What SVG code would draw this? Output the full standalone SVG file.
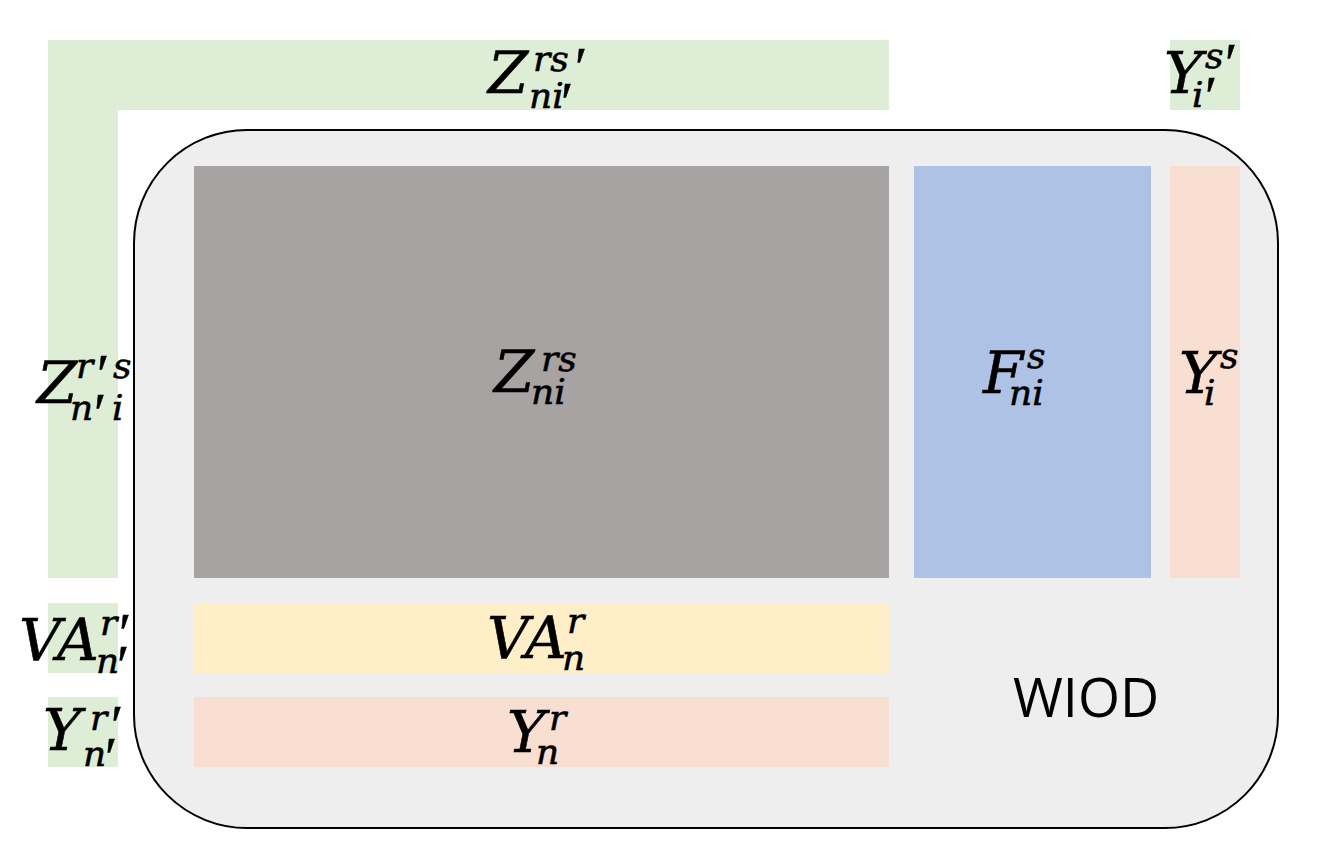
<svg xmlns="http://www.w3.org/2000/svg" width="1319" height="856" viewBox="0 0 1319 856">
<style>
.m{font-family:"DejaVu Serif","Liberation Serif",serif;font-style:italic;fill:#000;stroke:#000;stroke-width:0.6px}
.b{font-size:58px}
.s{font-size:36px}
.p{font-family:"Liberation Serif","Times New Roman",serif;font-size:56px;fill:#000;stroke:#000;stroke-width:0.5px}
.green{fill:#DEEDD6}
</style>
<rect width="1319" height="856" fill="#fff"/>
<g id="ext-top"><rect class="green" x="48" y="40" width="841" height="70"/></g>
<g id="ext-left"><rect class="green" x="48" y="110" width="70" height="468"/></g>
<g id="ext-va"><rect class="green" x="48" y="603" width="70" height="70"/></g>
<g id="ext-y"><rect class="green" x="48" y="697" width="70" height="70"/></g>
<g id="ext-ys"><rect class="green" x="1170" y="40" width="70" height="70"/></g>
<g id="wiod">
<rect x="134" y="130" width="1144" height="698" rx="113" ry="113" fill="#EEEEEE" stroke="#000" stroke-width="2"/>
<text x="1013" y="717" font-family="'Open Sans','Liberation Sans',sans-serif" font-size="54" fill="#000">WIOD</text>
</g>
<g id="Z"><rect x="194" y="166" width="695" height="412" fill="#A7A3A3"/></g>
<g id="F"><rect x="914" y="166" width="237" height="412" fill="#ADC2E5"/></g>
<g id="Ys"><rect x="1170" y="166" width="70" height="412" fill="#F9DFD2"/></g>
<g id="VA"><rect x="194" y="603" width="695" height="70" fill="#FFEFC9"/></g>
<g id="Yr"><rect x="194" y="697" width="695" height="70" fill="#F9DFD2"/></g>
<g id="connectors"></g>
<g id="labels">
<text class="m b" x="494" y="392">Z</text>
<text class="m s" x="541" y="371">rs</text>
<text class="m s" x="531" y="404">ni</text>

<text class="m b" x="983" y="393">F</text>
<text class="m s" x="1027" y="368">s</text>
<text class="m s" x="1009" y="405">ni</text>

<text class="m b" x="1179" y="393">Y</text>
<text class="m s" x="1220" y="368">s</text>
<text class="m s" x="1204" y="405">i</text>

<text class="m b" x="487" y="658">VA</text>
<text class="m s" x="567" y="633">r</text>
<text class="m s" x="562" y="670">n</text>

<text class="m b" x="507" y="752">Y</text>
<text class="m s" x="549" y="730">r</text>
<text class="m s" x="536" y="764">n</text>

<text class="m b" x="488" y="93">Z</text>
<text class="m s" x="533" y="71">rs</text>
<text class="p" x="575" y="87">′</text>
<text class="m s" x="529" y="108">ni</text>
<text class="p" x="561" y="122">′</text>

<text class="m b" x="1164" y="93">Y</text>
<text class="m s" x="1205" y="68">s</text>
<text class="p" x="1225" y="83">′</text>
<text class="m s" x="1192" y="107">i</text>
<text class="p" x="1205" y="116">′</text>

<text class="m b" x="37" y="403">Z</text>
<text class="m s" x="76" y="378">r</text>
<text class="p" x="97" y="394">′</text>
<text class="m s" x="113" y="378">s</text>
<text class="m s" x="70" y="420">n</text>
<text class="p" x="94" y="433">′</text>
<text class="m s" x="112" y="420">i</text>

<text class="m b" x="19" y="660">VA</text>
<text class="m s" x="100" y="635">r</text>
<text class="p" x="119" y="653">′</text>
<text class="m s" x="96" y="673">n</text>
<text class="p" x="117" y="685">′</text>

<text class="m b" x="43" y="750">Y</text>
<text class="m s" x="90" y="730">r</text>
<text class="p" x="111" y="745">′</text>
<text class="m s" x="83" y="766">n</text>
<text class="p" x="105" y="777">′</text>
</g>
</svg>
